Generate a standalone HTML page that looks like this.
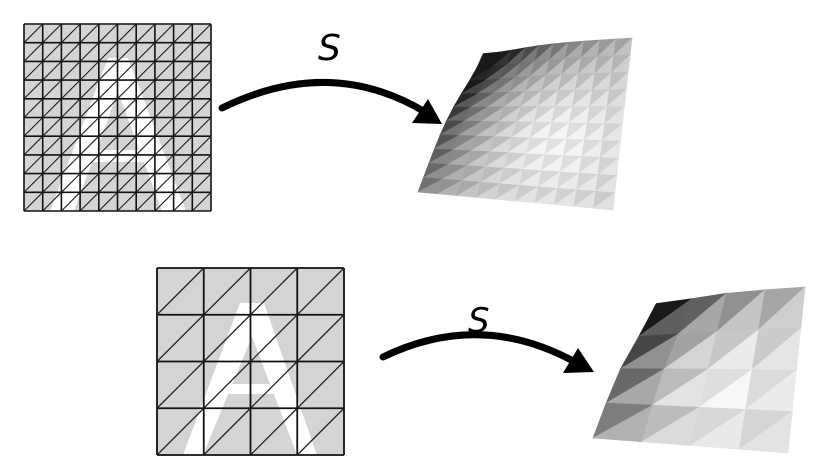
<!DOCTYPE html>
<html><head><meta charset="utf-8"><style>
html,body{margin:0;padding:0;background:#fff;width:816px;height:471px;overflow:hidden}
svg{display:block}
</style></head><body>
<svg id="fig" width="816" height="471" viewBox="0 0 816 471">
<g id="grid1"></g>
<g id="grid2"></g>
<g id="surf1"></g>
<g id="surf2"></g>
<g>
<path d="M222,108 Q330,55 425,112" fill="none" stroke="#000" stroke-width="7" stroke-linecap="round"/>
<polygon points="442,124 412,123 428,99" fill="#000"/>
</g>
<text x="318" y="60" font-family="'DejaVu Sans','Liberation Sans',sans-serif" font-style="italic" font-size="36" fill="#000">S</text>
<g>
<path d="M383,357 Q480,310 575,362" fill="none" stroke="#000" stroke-width="7" stroke-linecap="round"/>
<polygon points="594,372 563,373 578,348" fill="#000"/>
</g>
<text x="468" y="332" font-family="'DejaVu Sans','Liberation Sans',sans-serif" font-style="italic" font-size="34" fill="#000">S</text>
</svg>
<script>
const NS='http://www.w3.org/2000/svg';
function el(tag,attrs,parent){const e=document.createElementNS(NS,tag);for(const k in attrs)e.setAttribute(k,attrs[k]);parent.appendChild(e);return e;}
function grid(g,x0,y0,size,n,lw,ax,ay,lx0,lx1,rx0,rx1,cy0,cy1,hw){
  el('rect',{x:x0,y:y0,width:size,height:size,fill:'#d4d4d4'},g);
  const bot=y0+size;
  el('polygon',{points:`${ax-hw},${ay} ${ax+hw},${ay} ${rx1},${bot} ${rx0},${bot} ${lx1},${bot} ${lx0},${bot}`,fill:'#fff'},g);
  const hy=ay+(bot-ay)*0.22;
  const L=y=>ax+(lx1-ax)*(y-hy)/(bot-hy), R=y=>ax+(rx0-ax)*(y-hy)/(bot-hy);
  el('polygon',{points:`${ax},${hy} ${R(cy0)},${cy0} ${L(cy0)},${cy0}`,fill:'#d4d4d4'},g);
  el('polygon',{points:`${L(cy1)},${cy1} ${R(cy1)},${cy1} ${rx0},${bot} ${lx1},${bot}`,fill:'#d4d4d4'},g);
  const c=size/n;
  for(let i=0;i<=n;i++){
    el('line',{x1:x0+i*c,y1:y0,x2:x0+i*c,y2:y0+size,stroke:'#111','stroke-width':lw},g);
    el('line',{x1:x0,y1:y0+i*c,x2:x0+size,y2:y0+i*c,stroke:'#111','stroke-width':lw},g);
  }
  for(let i=0;i<n;i++)for(let j=0;j<n;j++)
    el('line',{x1:x0+i*c,y1:y0+(j+1)*c,x2:x0+(i+1)*c,y2:y0+j*c,stroke:'#222','stroke-width':lw*0.7},g);
}
grid(document.getElementById('grid1'),24,24,187,10,1.6,118,58,50,74,162,186,150,162,10);
grid(document.getElementById('grid2'),157,268,187,4,1.8,252,303,183,203,297,317,384,394,12);
function surface(g,P,n,bulge){
  const [BL,TL,TR,BR]=P;
  function pos(u,v){
    const tx=TL[0]+(TR[0]-TL[0])*u, ty=TL[1]+(TR[1]-TL[1])*u;
    const bx=BL[0]+(BR[0]-BL[0])*u, by=BL[1]+(BR[1]-BL[1])*u;
    let x=tx+(bx-tx)*v, y=ty+(by-ty)*v;
    const w=Math.exp(-((u*u)+(v*v))*8);
    x+=bulge*w*0.8; y+=bulge*w*0.4;
    return [x,y];
  }
  function shade(u,v,k){
    let s=205+40*Math.exp(-((u-0.6)**2+(v-0.6)**2)*6)
      -200*Math.exp(-u*4.5)*(1-0.55*v)
      -130*Math.exp(-v*6)*(1-u*0.75);
    s+= k? 12:-10;
    s=Math.max(25,Math.min(250,s));
    return `rgb(${s|0},${s|0},${s|0})`;
  }
  for(let i=0;i<n;i++)for(let j=0;j<n;j++){
    const u0=i/n,u1=(i+1)/n,v0=j/n,v1=(j+1)/n;
    const a=pos(u0,v0),b=pos(u1,v0),c=pos(u1,v1),d=pos(u0,v1);
    const f1=shade(u0+(u1-u0)*0.33,v0+(v1-v0)*0.33,0), f2=shade(u0+(u1-u0)*0.67,v0+(v1-v0)*0.67,1);
    const t1=el('polygon',{points:[a,b,d].map(p=>p.join(',')).join(' '),fill:f1,stroke:f1,'stroke-width':0.6},g);
    
    
    const t2=el('polygon',{points:[b,c,d].map(p=>p.join(',')).join(' '),fill:f2,stroke:f2,'stroke-width':0.6},g);
    
    
  }
}
surface(document.getElementById('surf1'),[[418,192],[472,48],[632,38],[613,210]],10,14);
surface(document.getElementById('surf2'),[[593,438],[645,298],[805,287],[788,453]],4,14);
</script>
</body></html>
